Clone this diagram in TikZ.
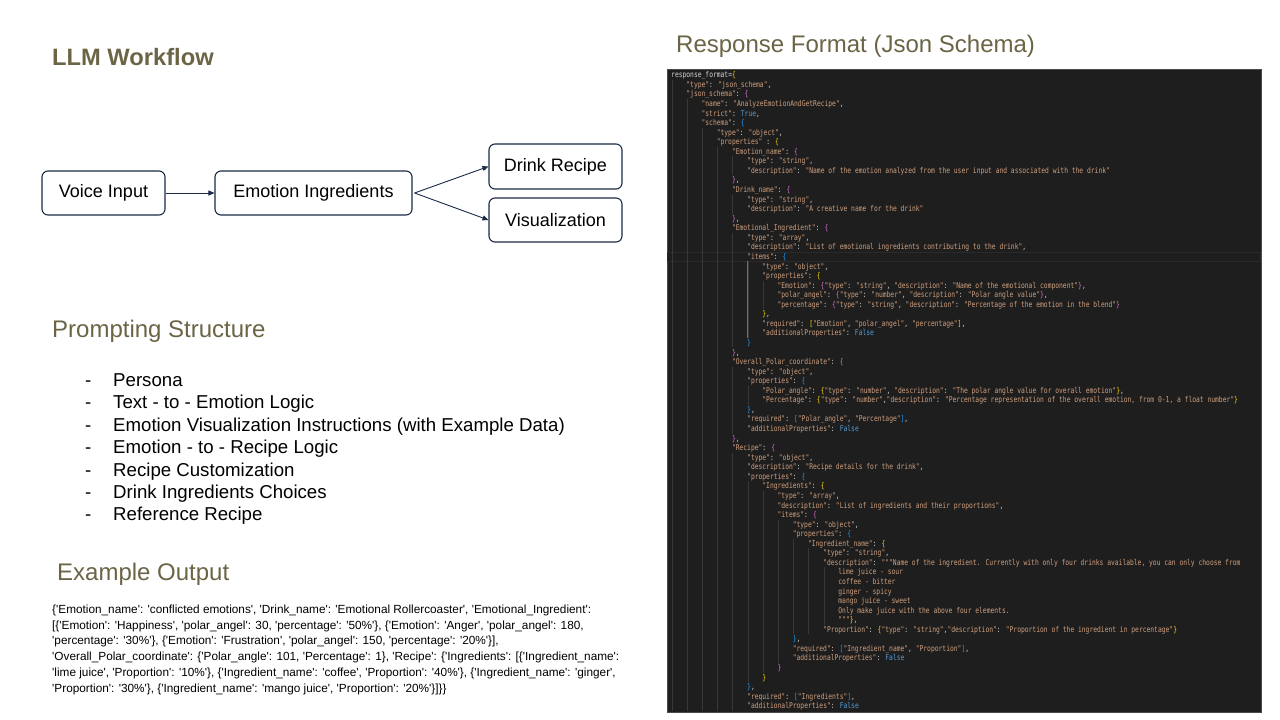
\documentclass[tikz,border=0pt]{standalone}
\usepackage{fontspec}
\setmainfont{Liberation Sans}[Ligatures=TeXOff]
\newfontfamily\codefont{DejaVu Sans Mono}[FakeStretch=0.79,Ligatures=TeXOff]
\usetikzlibrary{arrows.meta}
\definecolor{headcol}{HTML}{6B6546}
\definecolor{navy}{HTML}{1B2A47}
\definecolor{codebg}{HTML}{1E1E1E}
\definecolor{codeborder}{HTML}{4A4A4A}
\definecolor{linehl}{HTML}{2A2A2A}
\definecolor{cstr}{HTML}{CE9F7E}
\definecolor{cpun}{HTML}{D4D4D4}
\definecolor{cgold}{HTML}{FFD700}
\definecolor{corch}{HTML}{DA70D6}
\definecolor{cblu}{HTML}{179FFF}
\definecolor{ckw}{HTML}{569CD6}
\definecolor{guidecol}{HTML}{383838}
\definecolor{guideact}{HTML}{6E6E6E}
\newcommand\qq[1]{\textcolor{cstr}{"#1"}}
\newcommand\cG[1]{\textcolor{cgold}{#1}}
\newcommand\cO[1]{\textcolor{corch}{#1}}
\newcommand\cB[1]{\textcolor{cblu}{#1}}
\newcommand\cK[1]{\textcolor{ckw}{#1}}
\newcommand\codeln[3]{%
  \pgfmathsetmacro\cyy{75+(#1-1)*9.56}%
  \pgfmathsetmacro\cxx{671+#2*15.2}%
  \ifnum#2>0
    \foreach \j in {1,...,#2}{\draw[guide] ({671+(\j-1)*15.2+0.8},\cyy-4.78) -- ++(0,9.56);}%
  \fi
  \node[codetxt] (c#1) at (\cxx,\cyy+2.8) {#3};%
}
\tikzset{
  heading/.style={anchor=base west, inner sep=0pt, text=headcol, font=\fontsize{24}{28}\selectfont},
  flowbox/.style={draw=navy, line width=1.1pt, rounded corners=6pt, minimum height=44pt, inner sep=0pt, font=\fontsize{18}{22}\selectfont},
  flowarrow/.style={draw=navy, line width=0.9pt, -{Triangle[length=6pt,width=5pt]}},
  listtxt/.style={anchor=base west, inner sep=0pt, font=\fontsize{18.65}{22}\selectfont},
  extxt/.style={anchor=base west, inner sep=0pt, font=\fontsize{11.8}{14}\selectfont},
  codetxt/.style={anchor=base west, inner sep=0pt, text=cpun, font=\codefont\fontsize{8}{9}\selectfont},
  guide/.style={draw=guidecol, line width=0.6pt},
}
\begin{document}
\begin{tikzpicture}[x=1pt,y=-1pt]
\useasboundingbox (0,0) rectangle (1280,720);
\fill[white] (0,0) rectangle (1280,720);

% headings
\node[heading, font=\bfseries\fontsize{23.7}{28}\selectfont] (h1) at (52,65.5) {LLM Workflow};
\node[heading] (h2) at (676,52.5) {Response Format (Json Schema)};
\node[heading] (h3) at (52,337) {Prompting Structure};
\node[heading] (h4) at (57,580.5) {Example Output};

% workflow
\node[flowbox, minimum width=123pt] (vi) at (103.5,193) {Voice Input};
\node[flowbox, minimum width=197pt] (ei) at (313.5,193) {Emotion Ingredients};
\node[flowbox, minimum width=133pt, minimum height=45pt] (dr) at (555.5,166.5) {Drink Recipe};
\node[flowbox, minimum width=133pt] (vz) at (555.5,220) {Visualization};
\draw[flowarrow] (vi.east) -- (ei.west);
\draw[flowarrow] ([xshift=2pt]ei.east) -- (dr.west);
\draw[flowarrow] ([xshift=2pt]ei.east) -- (vz.west);

% prompting structure list
\foreach \t [count=\i] in {Persona, Text - to - Emotion Logic, Emotion Visualization Instructions (with Example Data), Emotion - to - Recipe Logic, Recipe Customization, Drink Ingredients Choices, Reference Recipe}{
  \node[listtxt] (d\i) at (85,{386.6+(\i-1)*22.35}) {-};
  \node[listtxt] (p\i) at (113,{386.6+(\i-1)*22.35}) {\t};
}

% example output
\node[extxt] (ex1) at (52,613.2) {\{'Emotion\_name': 'conflicted emotions', 'Drink\_name': 'Emotional Rollercoaster', 'Emotional\_Ingredient':};
\node[extxt] (ex2) at (52,629) {[\{'Emotion': 'Happiness', 'polar\_angel': 30, 'percentage': '50\%'\}, \{'Emotion': 'Anger', 'polar\_angel': 180,};
\node[extxt] (ex3) at (52,644.8) {'percentage': '30\%'\}, \{'Emotion': 'Frustration', 'polar\_angel': 150, 'percentage': '20\%'\}],};
\node[extxt] (ex4) at (52,660.6) {'Overall\_Polar\_coordinate': \{'Polar\_angle': 101, 'Percentage': 1\}, 'Recipe': \{'Ingredients': [\{'Ingredient\_name':};
\node[extxt] (ex5) at (52,676.4) {'lime juice', 'Proportion': '10\%'\}, \{'Ingredient\_name': 'coffee', 'Proportion': '40\%'\}, \{'Ingredient\_name': 'ginger',};
\node[extxt] (ex6) at (52,692.2) {'Proportion': '30\%'\}, \{'Ingredient\_name': 'mango juice', 'Proportion': '20\%'\}]\}\}};

% code panel
\draw[fill=codebg, draw=codeborder, line width=0.8pt] (667,69.5) rectangle (1261,712);
\draw[draw=linehl, line width=0.5pt] (667.5,{75+19*9.56-4.78}) rectangle (1260.5,{75+19*9.56+4.78});

\codeln{1}{0}{response\_format=\cG{\{}}
\codeln{2}{1}{\qq{type}: \qq{json\_schema},}
\codeln{3}{1}{\qq{json\_schema}: \cO{\{}}
\codeln{4}{2}{\qq{name}: \qq{AnalyzeEmotionAndGetRecipe},}
\codeln{5}{2}{\qq{strict}: \cK{True},}
\codeln{6}{2}{\qq{schema}: \cB{\{}}
\codeln{7}{3}{\qq{type}: \qq{object},}
\codeln{8}{3}{\qq{properties} : \cG{\{}}
\codeln{9}{4}{\qq{Emotion\_name}: \cO{\{}}
\codeln{10}{5}{\qq{type}: \qq{string},}
\codeln{11}{5}{\qq{description}: \qq{Name of the emotion analyzed from the user input and associated with the drink}}
\codeln{12}{4}{\cO{\}},}
\codeln{13}{4}{\qq{Drink\_name}: \cO{\{}}
\codeln{14}{5}{\qq{type}: \qq{string},}
\codeln{15}{5}{\qq{description}: \qq{A creative name for the drink}}
\codeln{16}{4}{\cO{\}},}
\codeln{17}{4}{\qq{Emotional\_Ingredient}: \cO{\{}}
\codeln{18}{5}{\qq{type}: \qq{array},}
\codeln{19}{5}{\qq{description}: \qq{List of emotional ingredients contributing to the drink},}
\codeln{20}{5}{\qq{items}: \cB{\{}}
\codeln{21}{6}{\qq{type}: \qq{object},}
\codeln{22}{6}{\qq{properties}: \cG{\{}}
\codeln{23}{7}{\qq{Emotion}: \cO{\{}\qq{type}: \qq{string}, \qq{description}: \qq{Name of the emotional component}\cO{\}},}
\codeln{24}{7}{\qq{polar\_angel}: \cO{\{}\qq{type}: \qq{number}, \qq{description}: \qq{Polar angle value}\cO{\}},}
\codeln{25}{7}{\qq{percentage}: \cO{\{}\qq{type}: \qq{string}, \qq{description}: \qq{Percentage of the emotion in the blend}\cO{\}}}
\codeln{26}{6}{\cG{\}},}
\codeln{27}{6}{\qq{required}: \cG{[}\qq{Emotion}, \qq{polar\_angel}, \qq{percentage}\cG{]},}
\codeln{28}{6}{\qq{additionalProperties}: \cK{False}}
\codeln{29}{5}{\cB{\}}}
\codeln{30}{4}{\cO{\}},}
\codeln{31}{4}{\qq{Overall\_Polar\_coordinate}: \cO{\{}}
\codeln{32}{5}{\qq{type}: \qq{object},}
\codeln{33}{5}{\qq{properties}: \cB{\{}}
\codeln{34}{6}{\qq{Polar\_angle}: \cG{\{}\qq{type}: \qq{number}, \qq{description}: \qq{The polar angle value for overall emotion}\cG{\}},}
\codeln{35}{6}{\qq{Percentage}: \cG{\{}\qq{type}: \qq{number},\qq{description}: \qq{Percentage representation of the overall emotion, from 0-1, a float number}\cG{\}}}
\codeln{36}{5}{\cB{\}},}
\codeln{37}{5}{\qq{required}: \cB{[}\qq{Polar\_angle}, \qq{Percentage}\cB{]},}
\codeln{38}{5}{\qq{additionalProperties}: \cK{False}}
\codeln{39}{4}{\cO{\}},}
\codeln{40}{4}{\qq{Recipe}: \cO{\{}}
\codeln{41}{5}{\qq{type}: \qq{object},}
\codeln{42}{5}{\qq{description}: \qq{Recipe details for the drink},}
\codeln{43}{5}{\qq{properties}: \cB{\{}}
\codeln{44}{6}{\qq{Ingredients}: \cG{\{}}
\codeln{45}{7}{\qq{type}: \qq{array},}
\codeln{46}{7}{\qq{description}: \qq{List of ingredients and their proportions},}
\codeln{47}{7}{\qq{items}: \cO{\{}}
\codeln{48}{8}{\qq{type}: \qq{object},}
\codeln{49}{8}{\qq{properties}: \cB{\{}}
\codeln{50}{9}{\qq{Ingredient\_name}: \cG{\{}}
\codeln{51}{10}{\qq{type}: \qq{string},}
\codeln{52}{10}{\qq{description}: \textcolor{cstr}{"""Name of the ingredient. Currently with only four drinks available, you can only choose from}}
\codeln{53}{11}{\textcolor{cstr}{lime juice - sour}}
\codeln{54}{11}{\textcolor{cstr}{coffee - bitter}}
\codeln{55}{11}{\textcolor{cstr}{ginger - spicy}}
\codeln{56}{11}{\textcolor{cstr}{mango juice - sweet}}
\codeln{57}{11}{\textcolor{cstr}{Only make juice with the above four elements.}}
\codeln{58}{11}{\textcolor{cstr}{"""}\cG{\}},}
\codeln{59}{10}{\qq{Proportion}: \cG{\{}\qq{type}: \qq{string},\qq{description}: \qq{Proportion of the ingredient in percentage}\cG{\}}}
\codeln{60}{8}{\cB{\}},}
\codeln{61}{8}{\qq{required}: \cB{[}\qq{Ingredient\_name}, \qq{Proportion}\cB{]},}
\codeln{62}{8}{\qq{additionalProperties}: \cK{False}}
\codeln{63}{7}{\cO{\}}}
\codeln{64}{6}{\cG{\}}}
\codeln{65}{5}{\cB{\}},}
\codeln{66}{5}{\qq{required}: \cB{[}\qq{Ingredients}\cB{]},}
\codeln{67}{5}{\qq{additionalProperties}: \cK{False}}

% active indent guide
\draw[draw=guideact, line width=0.7pt] (747.8,{75+20*9.56-4.78}) -- (747.8,{75+27*9.56+4.78});
\end{tikzpicture}
\end{document}
